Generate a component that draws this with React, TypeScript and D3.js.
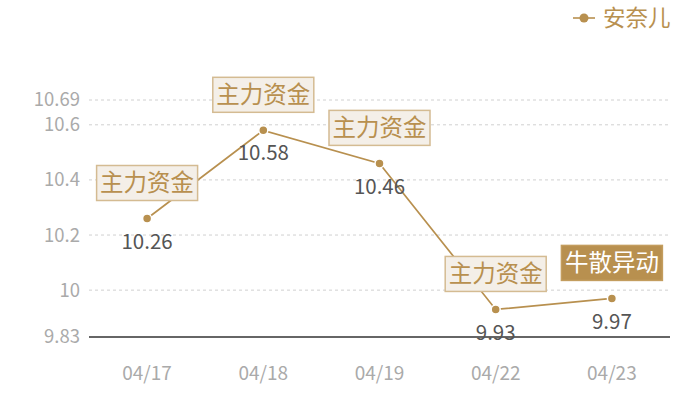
import * as d3 from 'd3'

const dates = ['04/17', '04/18', '04/19', '04/22', '04/23']
const prices = [10.26, 10.58, 10.46, 9.93, 9.97]
const tags = ['主力资金', '主力资金', '主力资金', '主力资金', '牛散异动']
const yTicks = [9.83, 10, 10.2, 10.4, 10.6, 10.69]
const seriesName = '安奈儿'

const gold = '#b8904f'
const font = '"Noto Sans CJK SC", "Noto Sans", sans-serif'

export default function App() {
  const W = 700, H = 400
  const m = { top: 100, right: 30, bottom: 63, left: 89 }
  const x = d3.scaleBand().domain(dates).range([m.left, W - m.right]).padding(0)
  const y = d3.scaleLinear().domain([9.83, 10.69]).range([H - m.bottom, m.top])
  const cx = (d: string) => (x(d) ?? 0) + x.bandwidth() / 2
  const line = d3.line<number>().x((_, i) => cx(dates[i])).y(v => y(v))

  return (
    <svg width={W} height={H} style={{ position: 'absolute', left: 0, top: 0, fontFamily: font }}>
      <rect width={W} height={H} fill="#fff" />
      {yTicks.map(t => (
        <g key={t}>
          {t !== 9.83 && (
            <line x1={m.left} x2={W - m.right} y1={y(t)} y2={y(t)}
              stroke="#d0d0d0" strokeDasharray="3,3" />
          )}
          <text x={80} y={y(t)} dy="0.35em" textAnchor="end" fontSize={18.5} fill="#aaa">{t}</text>
        </g>
      ))}
      <line x1={m.left} x2={W - m.right} y1={y(9.83)} y2={y(9.83)} stroke="#333" strokeWidth={1.3} />
      {dates.map(d => (
        <text key={d} x={cx(d)} y={373} dy="0.35em" textAnchor="middle" fontSize={19} fill="#aaa">{d}</text>
      ))}
      <path d={line(prices) ?? ''} fill="none" stroke={gold} strokeWidth={1.7} />
      {prices.map((v, i) => (
        <g key={i}>
          <circle cx={cx(dates[i])} cy={y(v)} r={4.5} fill={gold} stroke="#fff" strokeWidth={1.5} />
          <text x={cx(dates[i])} y={y(v) + 23} dy="0.35em" textAnchor="middle" fontSize={20.5} fill="#555">{v}</text>
        </g>
      ))}
      {tags.map((t, i) => {
        const px = cx(dates[i]), py = y(prices[i])
        const filled = t === '牛散异动'
        return (
          <g key={i}>
            <rect x={px - 50.5} y={py - 53} width={101} height={35}
              fill={filled ? gold : '#f4efe8'}
              stroke={filled ? '#c39d5e' : '#d4bb92'} strokeWidth={1.5} />
            <text x={px} y={py - 35.5} dy="0.36em" textAnchor="middle" fontSize={23.5}
              fill={filled ? '#fff' : gold}>{t}</text>
          </g>
        )
      })}
      <g>
        <line x1={573} x2={595} y1={18} y2={18} stroke={gold} strokeWidth={1.6} />
        <circle cx={584} cy={18} r={4.5} fill={gold} />
        <text x={603} y={18} dy="0.36em" fontSize={22.5} fill={gold}>{seriesName}</text>
      </g>
    </svg>
  )
}
